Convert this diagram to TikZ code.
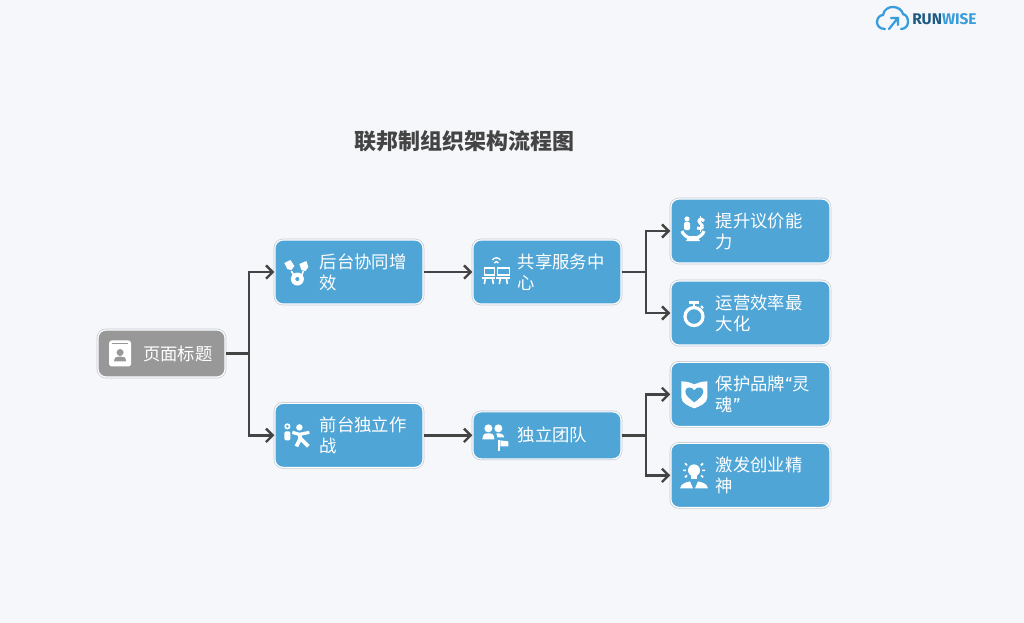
\documentclass[tikz,border=0pt]{standalone}
\usepackage{fontspec}
\setmainfont{Noto Sans CJK SC}
\newfontfamily\logofont{Fira Sans}
\usetikzlibrary{arrows.meta}
\definecolor{pagebg}{HTML}{F5F7FB}
\definecolor{boxblue}{HTML}{4FA5D6}
\definecolor{boxgray}{HTML}{989898}
\definecolor{boxedge}{HTML}{C4CCD6}
\definecolor{linkgray}{HTML}{444444}
\definecolor{logoblue}{HTML}{3A9DDB}
\definecolor{logodark}{HTML}{1F5A85}
\tikzset{
  icon_pistons/.pic={
    \fill[white] (-12,-9) -- (-6,-12) -- (-2,-6) -- (-5,-2) -- (-9,-3) -- cycle;
    \fill[white] (3,-8) -- (10,-11) -- (12,-5) -- (9,-1) -- (5,-2) -- cycle;
    \draw[white,line width=1.2] (-5,-1) -- (-2,4) (7,-1) -- (5,4);
    \fill[white,even odd rule] (1,7) circle (6.5) (1,7) circle (2.2);
  },
  icon_card/.pic={
    \fill[white,rounded corners=2] (-11,-13) rectangle (11,13);
    \fill[boxgray] (-8,-10.5) rectangle (8,-9.5);
    \fill[boxgray] (0,-1) circle (3.5);
    \fill[boxgray] (-6,8) .. controls (-6,3) and (-3,3) .. (0,3) .. controls (3,3) and (6,3) .. (6,8) -- cycle;
  },
  icon_runner/.pic={
    \draw[white,line width=1.2] (-9,-9) circle (2.2);
    \fill[white,rounded corners=1] (-12,-4) rectangle (-6,5);
    \fill[white] (3,-8) circle (3.2);
    \draw[white,line width=2.4] (-4,-3) -- (3,-1) -- (13,-3);
    \draw[white,line width=2.8] (3,-1) -- (4,3) -- (0,11) (4,3) -- (12,11);
  },
  icon_share/.pic={
    \draw[white,line width=1] (-2,-12) .. controls (0,-15) and (4,-15) .. (6,-12);
    \draw[white,line width=1] (0,-9) .. controls (1,-11) and (3,-11) .. (4,-9);
    \draw[white,line width=1.2] (-10,-4) rectangle (0,3) (3,-4) rectangle (15,3);
    \draw[white,line width=1.2] (-12,6) -- (1,6) (2,6) -- (16,6);
    \draw[white,line width=1.2] (-9,6) -- (-10,12) (-2,6) -- (-1,12) (6,6) -- (5,12) (12,6) -- (13,12);
  },
  icon_team/.pic={
    \fill[white] (-6,-7) circle (4) (4,-7) circle (4);
    \fill[white] (-12,4) .. controls (-12,-2) and (-9,-2) .. (-6,-2) .. controls (-3,-2) and (0,-2) .. (0,4) -- cycle;
    \fill[white] (2,-2) .. controls (6,-2) and (9,-2) .. (10,2) -- (3,2) -- cycle;
    \fill[white] (4,5) rectangle (6,16);
    \fill[white] (6,5) -- (14,6) -- (14,11) -- (6,11) -- cycle;
  },
  icon_money/.pic={
    \fill[white] (-6,-12) circle (2.6);
    \fill[white,rounded corners=1] (-9,-9) rectangle (-3,-1);
    \draw[white,line width=2.2] (11,-10) .. controls (8,-14) and (4,-11) .. (7,-8) .. controls (11,-5) and (10,-1) .. (4,-3);
    \draw[white,line width=1.2] (7.5,-15) -- (7.5,1);
    \draw[white,line width=2.4] (-11,0) .. controls (-10,4) and (-6,6) .. (-3,7) (11,0) .. controls (10,4) and (6,6) .. (3,7);
    \fill[white] (-4,5) -- (4,5) -- (7,10) -- (-7,10) -- cycle;
  },
  icon_watch/.pic={
    \draw[white,line width=2.4] (1,3.5) circle (9);
    \fill[white] (-4,-12) rectangle (6,-9.5);
    \fill[white] (0,-10) rectangle (2,-5);
    \draw[white,line width=1.6] (8,-7) -- (10,-5);
  },
  icon_shield/.pic={
    \fill[white] (-13,-13) .. controls (-6,-13) and (-3,-11) .. (0,-10) .. controls (3,-11) and (6,-13) .. (13,-13) -- (13,3) .. controls (13,9) and (5,12) .. (0,14) .. controls (-5,12) and (-13,9) .. (-13,3) -- cycle;
    \fill[boxblue] (0,8) .. controls (-5,4) and (-9,1) .. (-9,-3) .. controls (-9,-8) and (-2,-8) .. (0,-4) .. controls (2,-8) and (9,-8) .. (9,-3) .. controls (9,1) and (5,4) .. (0,8) -- cycle;
  },
  icon_idea/.pic={
    \fill[white] (1,-5) circle (6);
    \fill[white] (-2,0) rectangle (4,4);
    \draw[white,line width=1.2] (-10,-5) -- (-7,-5) (9,-5) -- (12,-5) (-8,-12) -- (-6,-10) (10,-12) -- (8,-10) (-8,2) -- (-6,0) (10,2) -- (8,0);
    \fill[white] (-13,13) .. controls (-12,8) and (-7,7) .. (-3,6) -- (0,13) -- cycle;
    \fill[white] (15,13) .. controls (14,8) and (9,7) .. (5,6) -- (2,13) -- cycle;
  }
}
\begin{document}
\begin{tikzpicture}[
  x=0.75pt, y=-0.75pt,
  stagebox/.style={rectangle, rounded corners=6pt, fill=boxblue, text=white, inner xsep=0pt, inner ysep=0pt,
    draw=white, line width=0.9pt, preaction={draw=boxedge, line width=2pt},
    minimum height=48pt, text width=111pt, align=left,
    font=\fontsize{13}{15.75}\selectfont, execute at begin node={\leftskip=33.75pt}},
  rootbox/.style={stagebox, fill=boxgray, text width=95.25pt, minimum height=35.25pt},
  wideBox/.style={stagebox, text width=119.25pt},
  link/.style={->, >={Straight Barb[length=5pt,width=10pt]}, draw=linkgray, line width=1.8pt}
]
\fill[pagebg] (0,0) rectangle (1024,623);
\useasboundingbox (0,0) rectangle (1024,623);

\node[font=\fontsize{16.5}{20}\selectfont\bfseries, text=linkgray] (title) at (464,141) {联邦制组织架构流程图};

\node[rootbox] (root) at (161.5,353.5) {页面标题};
\node[stagebox, right of=root, node distance=140.6pt, yshift=61.1pt] (backoffice) {后台协同增\\效};
\node[stagebox, right of=root, node distance=140.6pt, yshift=-61.4pt] (frontoffice) {前台独立作\\战};
\node[stagebox, right of=backoffice, node distance=148.5pt] (shared) {共享服务中\\心};
\node[stagebox, right of=frontoffice, node distance=148.5pt, minimum height=35.25pt] (team) {独立团队};
\node[wideBox, right of=shared, node distance=152.6pt, yshift=30.75pt] (pricing) {提升议价能\\力};
\node[wideBox, right of=shared, node distance=152.6pt, yshift=-30.75pt] (efficiency) {运营效率最\\大化};
\node[wideBox, right of=team, node distance=152.6pt, yshift=30.75pt] (brand) {保护品牌{\logofont“}灵\\魂{\logofont”}};
\node[wideBox, right of=team, node distance=152.6pt, yshift=-30pt] (spirit) {激发创业精\\神};

\pic at ([xshift=17pt]root.west) {icon_card};
\pic at ([xshift=16.5pt]backoffice.west) {icon_pistons};
\pic at ([xshift=16.5pt]frontoffice.west) {icon_runner};
\pic at ([xshift=16.5pt]shared.west) {icon_share};
\pic at ([xshift=16.5pt]team.west) {icon_team};
\pic at ([xshift=17pt]pricing.west) {icon_money};
\pic at ([xshift=17pt]efficiency.west) {icon_watch};
\pic at ([xshift=18pt]brand.west) {icon_shield};
\pic at ([xshift=17pt]spirit.west) {icon_idea};

\coordinate[right of=root, node distance=65.6pt] (forkroot);
\coordinate[right of=shared, node distance=74.3pt] (forkshared);
\coordinate[right of=team, node distance=74.3pt] (forkteam);

\draw[link] (root) -- (forkroot) |- (backoffice);
\draw[link] (forkroot) |- (frontoffice);
\draw[link] (backoffice) -- (shared);
\draw[link] (frontoffice) -- (team);
\draw[link] (shared) -- (forkshared) |- (pricing);
\draw[link] (forkshared) |- (efficiency);
\draw[link] (team) -- (forkteam) |- (brand);
\draw[link] (forkteam) |- (spirit);

% logo
\draw[logoblue, line width=1.7pt, line cap=round] (885,29) .. controls (879,29) and (877,25) .. (877,22) .. controls (877,18) and (880,15) .. (883,15) .. controls (884,9) and (889,7) .. (893,7) .. controls (898,7) and (902,10) .. (903,14) .. controls (907,15) and (908,19) .. (908,22) .. controls (908,26) and (905,29) .. (901,29);
\draw[logoblue, line width=1.7pt, line cap=round] (889,29) -- (897,19) (891,18) -- (898,18) -- (898,25);
\node[font=\logofont\bfseries\fontsize{11.6}{14}\selectfont, inner sep=0pt, anchor=west] (logotext) at (912,19) {\textcolor{logodark}{RUN}\textcolor{logoblue}{WISE}};
\end{tikzpicture}
\end{document}
